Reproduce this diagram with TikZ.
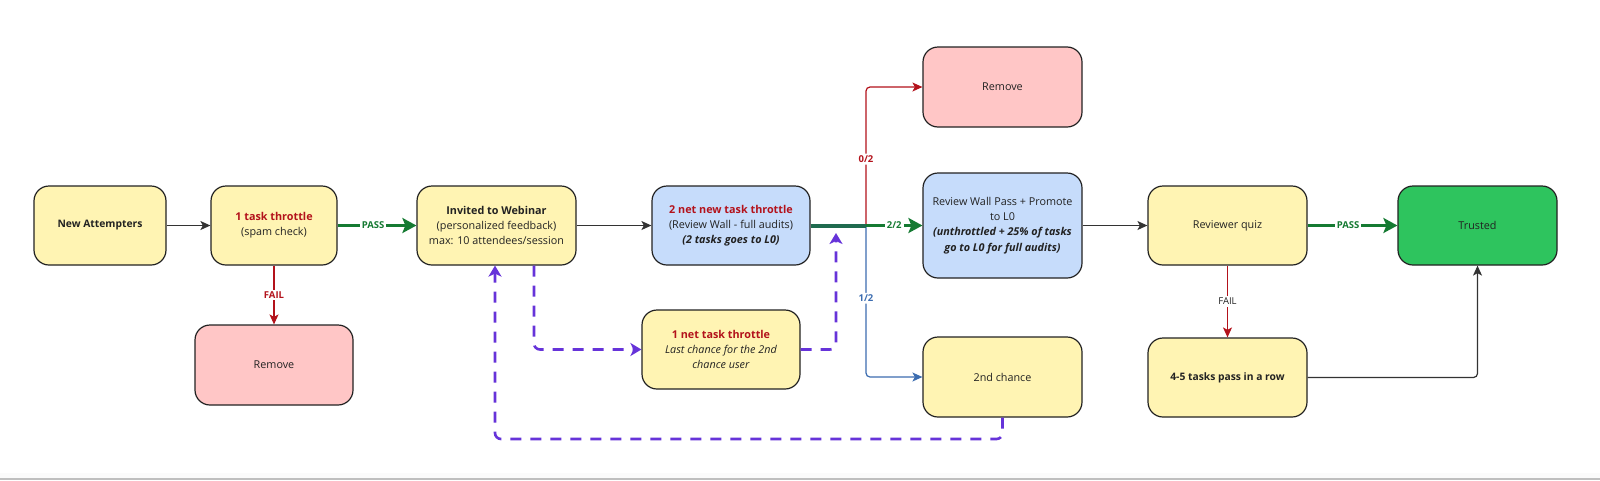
\documentclass[tikz,border=0pt]{standalone}
\usepackage{fontspec}
\setmainfont{Open Sans}
\usetikzlibrary{arrows.meta}
\definecolor{yel}{HTML}{FFF4B3}
\definecolor{pnk}{HTML}{FFC6C6}
\definecolor{blu}{HTML}{C6DCFB}
\definecolor{grn}{HTML}{2EC45E}
\definecolor{edgec}{HTML}{222222}
\definecolor{txt}{HTML}{222222}
\definecolor{tred}{HTML}{B3121B}
\definecolor{pgreen}{HTML}{157A32}
\definecolor{tealc}{HTML}{1F6B4F}
\definecolor{lblue}{HTML}{3C6DB0}
\definecolor{purp}{HTML}{6633D9}
\definecolor{arrc}{HTML}{333333}
\tikzset{
  box/.style={draw=edgec, line width=1.2pt, rounded corners=15pt, align=center,
    inner sep=0pt, minimum width=159pt, minimum height=79pt, text=txt,
    font=\fontsize{10.8}{15.3}\selectfont},
  ybox/.style={box, fill=yel},
  pbox/.style={box, fill=pnk},
  bbox/.style={box, fill=blu},
  gbox/.style={box, fill=grn},
  arr/.style={draw=arrc, line width=1.2pt, -{Stealth[length=10pt,width=9pt,inset=2.5pt]}},
  passarr/.style={draw=pgreen, line width=3pt, -{Stealth[length=14pt,width=15pt,inset=3pt]}},
  failarr/.style={draw=tred, line width=1.2pt, -{Stealth[length=10pt,width=9pt,inset=2.5pt]}},
  blarr/.style={draw=lblue, line width=1.2pt, -{Stealth[length=10pt,width=9pt,inset=2.5pt]}},
  dashp/.style={draw=purp, line width=2.6pt, dash pattern=on 11pt off 9pt, rounded corners=6pt,
    -{Stealth[length=11pt,width=13pt,inset=3pt]}},
  lbl/.style={fill=white, inner sep=2pt, font=\fontsize{9.5}{11}\selectfont\bfseries},
}
\begin{document}
\begin{tikzpicture}[x=1pt,y=-1pt]
\useasboundingbox (0,0) rectangle (1600,480);
\fill[white] (0,0) rectangle (1600,480);
\fill[black!1.5] (0,473) rectangle (1600,478);
\draw[black!25, line width=1.5pt] (0,479) -- (1600,479);

% nodes
\node[ybox, minimum width=132pt, font=\fontsize{10.3}{15.3}\selectfont] (na) at (100,225.5) {\textbf{New Attempters}};
\node[ybox, minimum width=126pt] (tt) at (274,225.5) {\textcolor{tred}{\textbf{1 task throttle}}\\(spam check)};
\node[pbox, minimum width=158pt, minimum height=80pt] (rmL) at (274,365) {Remove};
\node[ybox] (inv) at (496.5,225.5) {\textbf{Invited to Webinar}\\(personalized feedback)\\max: 10 attendees/session};
\node[bbox, minimum width=158pt] (nn) at (731,225.5) {\textcolor{tred}{\textbf{2 net new task throttle}}\\(Review Wall - full audits)\\\textbf{\textit{(2 tasks goes to L0)}}};
\node[ybox, minimum width=158pt] (lc) at (721,349.5) {\textcolor{tred}{\textbf{1 net task throttle}}\\\textit{Last chance for the 2nd}\\\textit{chance user}};
\node[pbox, minimum height=80pt] (rmT) at (1002.5,87) {Remove};
\node[bbox, minimum height=105pt] (rw) at (1002.5,225.5) {Review Wall Pass + Promote\\to L0\\\textbf{\textit{(unthrottled + 25\% of tasks}}\\\textbf{\textit{go to L0 for full audits)}}};
\node[ybox, minimum height=80pt] (sc) at (1002.5,377) {2nd chance};
\node[ybox] (rq) at (1227.5,225.5) {Reviewer quiz};
\node[gbox] (tr) at (1477.5,225.5) {Trusted};
\node[ybox, font=\fontsize{10.3}{15.3}\selectfont] (ft) at (1227.5,377.5) {\textbf{4-5 tasks pass in a row}};

\coordinate (j) at (866,225.5);
\coordinate (jd) at (836,233);
\coordinate (lp) at (495,439);

% connectors
\draw[arr] (na) -- (tt);
\draw[passarr] (tt) -- node[lbl, text=pgreen, pos=0.45]{PASS} (inv);
\draw[failarr] (tt) -- node[lbl, text=tred]{FAIL} (rmL);
\draw[arr] (inv) -- (nn);
\draw[failarr, rounded corners=4pt] (j) |- node[lbl, text=tred, pos=0.24]{0/2} (rmT.west);
\draw[blarr, rounded corners=4pt] (j) |- node[lbl, text=lblue, pos=0.24]{1/2} (sc.west);
\draw[draw=tealc, line width=4pt] (nn.east) -- (j);
\draw[passarr] (j) -- node[lbl, text=pgreen]{2/2} (rw.west);
\draw[arr] (rw) -- (rq);
\draw[passarr] (rq) -- node[lbl, text=pgreen, pos=0.45]{PASS} (tr);
\draw[failarr] (rq) -- node[lbl, text=txt, font=\fontsize{9.5}{11}\selectfont]{FAIL} (ft);
\draw[arr, rounded corners=4pt] (ft.east) -| (tr.south);

% dashed purple
\draw[dashp] ([xshift=37.5pt]inv.south) |- (lc.west);
\draw[dashp] (lc.east) -| (jd);
\draw[dashp] (sc.south) |- (lp) -- ([xshift=-1.5pt]inv.south);
\end{tikzpicture}
\end{document}
